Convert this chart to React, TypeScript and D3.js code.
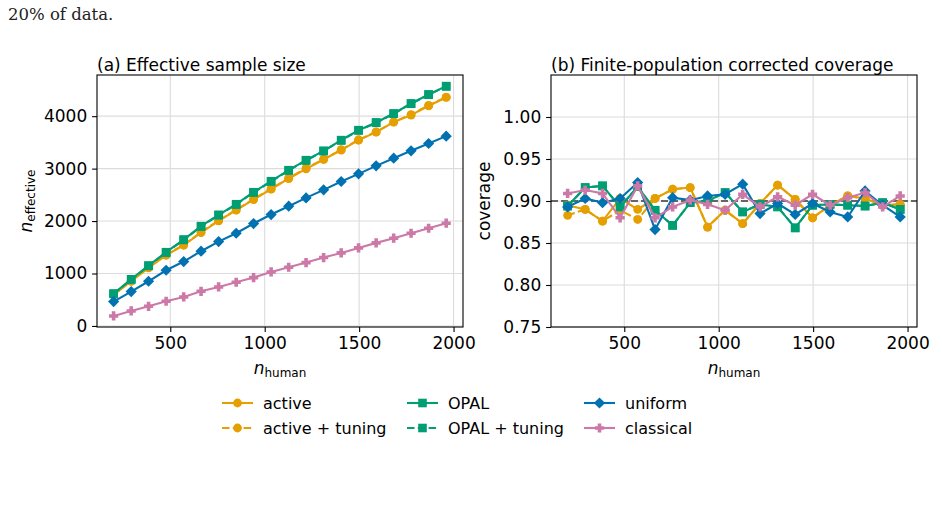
import React, { useEffect, useRef } from 'react';
import * as d3 from 'd3';

// n_human values (x axis, both panels)
const nHuman = [200, 293, 385, 478, 571, 663, 756, 849, 941, 1034, 1127, 1219, 1312, 1405, 1497, 1590, 1683, 1775, 1868, 1961];

// (a) effective sample size
const essActive = [590, 852, 1107, 1348, 1539, 1781, 2003, 2207, 2410, 2608, 2811, 2996, 3174, 3352, 3543, 3695, 3886, 4020, 4198, 4357];
const essActiveTuning = [600, 860, 1115, 1355, 1545, 1790, 2010, 2215, 2418, 2615, 2818, 3004, 3180, 3360, 3550, 3700, 3892, 4028, 4205, 4362];
const essOpal = [617, 890, 1151, 1406, 1647, 1902, 2118, 2321, 2550, 2760, 2970, 3161, 3339, 3543, 3733, 3880, 4051, 4242, 4414, 4573];
const essOpalTuning = [612, 885, 1146, 1400, 1640, 1896, 2112, 2316, 2544, 2754, 2964, 3155, 3334, 3537, 3728, 3874, 4046, 4236, 4408, 4568];
const essUniform = [464, 655, 852, 1062, 1228, 1425, 1609, 1768, 1953, 2124, 2283, 2442, 2595, 2754, 2900, 3053, 3199, 3339, 3479, 3619];
const essClassical = [191, 286, 375, 471, 553, 661, 744, 833, 922, 1030, 1119, 1208, 1304, 1393, 1488, 1584, 1673, 1768, 1863, 1959];

// (b) finite-population corrected coverage
const covActive = [0.895, 0.890, 0.876, 0.903, 0.890, 0.903, 0.914, 0.916, 0.869, 0.889, 0.873, 0.897, 0.919, 0.902, 0.880, 0.895, 0.906, 0.903, 0.895, 0.896];
const covActiveTuning = [0.883, 0.890, 0.876, 0.889, 0.878, 0.903, 0.914, 0.916, 0.869, 0.889, 0.873, 0.897, 0.919, 0.902, 0.880, 0.895, 0.906, 0.903, 0.895, 0.896];
const covOpal = [0.894, 0.916, 0.918, 0.893, 0.917, 0.889, 0.871, 0.898, 0.900, 0.910, 0.887, 0.896, 0.893, 0.868, 0.895, 0.896, 0.895, 0.894, 0.898, 0.890];
const covOpalTuning = [0.894, 0.916, 0.918, 0.893, 0.917, 0.889, 0.871, 0.898, 0.900, 0.910, 0.887, 0.896, 0.893, 0.868, 0.895, 0.896, 0.895, 0.894, 0.898, 0.890];
const covUniform = [0.893, 0.903, 0.898, 0.903, 0.922, 0.866, 0.904, 0.901, 0.906, 0.908, 0.920, 0.885, 0.897, 0.884, 0.897, 0.887, 0.881, 0.912, 0.895, 0.881];
const covClassical = [0.909, 0.913, 0.909, 0.880, 0.918, 0.880, 0.893, 0.901, 0.896, 0.889, 0.908, 0.893, 0.905, 0.895, 0.908, 0.895, 0.904, 0.910, 0.893, 0.906];

const nominal = 0.9;

const xTicks = [500, 1000, 1500, 2000];
const essTicks = [0, 1000, 2000, 3000, 4000];
const covTicks = [0.75, 0.8, 0.85, 0.9, 0.95, 1.0];

const seriesNames = ['active', 'active + tuning', 'OPAL', 'OPAL + tuning', 'uniform', 'classical'];
const colors = ['#E69F00', '#E69F00', '#009E73', '#009E73', '#0072B2', '#CC79A7'];
const markers = ['circle', 'circle', 'square', 'square', 'diamond', 'plus'];
const dashed = [false, true, false, true, false, false];

const FONT = 'DejaVu Sans, sans-serif';
const FS = 17;

function drawMarker(g: any, kind: string, x: number, y: number, color: string) {
    if (kind === 'circle') {
        g.append('circle').attr('cx', x).attr('cy', y).attr('r', 4.4).attr('fill', color);
    } else if (kind === 'square') {
        g.append('rect').attr('x', x - 4.3).attr('y', y - 4.3).attr('width', 8.6).attr('height', 8.6).attr('fill', color);
    } else if (kind === 'diamond') {
        g.append('path').attr('d', `M${x},${y - 5.6}L${x + 5.6},${y}L${x},${y + 5.6}L${x - 5.6},${y}Z`).attr('fill', color);
    } else {
        const a = 4.6, b = 1.8;
        g.append('path')
            .attr('d', `M${x - b},${y - a}H${x + b}V${y - b}H${x + a}V${y + b}H${x + b}V${y + a}H${x - b}V${y + b}H${x - a}V${y - b}H${x - b}Z`)
            .attr('fill', color);
    }
}

export default function App() {
    const svgRef = useRef<SVGSVGElement>(null);

    useEffect(() => {
        if (!svgRef.current) return;
        const svg = d3.select(svgRef.current);
        svg.selectAll('*').remove();

        svg.append('text').attr('x', 8).attr('y', 20)
            .attr('font-family', 'DejaVu Serif, serif').attr('font-size', 16.5).attr('fill', '#222')
            .text('20% of data.');

        const panels = [
            {
                left: 97, right: 463, title: '(a) Effective sample size', yDomain: [-20, 4785], ticks: essTicks,
                fmt: (d: number) => String(d), data: [essActive, essActiveTuning, essOpal, essOpalTuning, essUniform, essClassical],
            },
            {
                left: 551, right: 917, title: '(b) Finite-population corrected coverage', yDomain: [0.75, 1.05], ticks: covTicks,
                fmt: (d: number) => d.toFixed(2), data: [covActive, covActiveTuning, covOpal, covOpalTuning, covUniform, covClassical],
            },
        ];
        const top = 75, bottom = 327;

        panels.forEach((p, pi) => {
            const x = d3.scaleLinear().domain([112, 2050]).range([p.left, p.right]);
            const y = d3.scaleLinear().domain(p.yDomain).range([bottom, top]);
            const g = svg.append('g');

            // grid
            xTicks.forEach(t => {
                g.append('line').attr('x1', x(t)).attr('x2', x(t)).attr('y1', top).attr('y2', bottom)
                    .attr('stroke', '#dcdcdc').attr('stroke-width', 1.1);
            });
            p.ticks.forEach(t => {
                g.append('line').attr('x1', p.left).attr('x2', p.right).attr('y1', y(t)).attr('y2', y(t))
                    .attr('stroke', '#dcdcdc').attr('stroke-width', 1.1);
            });

            if (pi === 1) {
                g.append('line').attr('x1', p.left).attr('x2', p.right).attr('y1', y(nominal)).attr('y2', y(nominal))
                    .attr('stroke', '#666').attr('stroke-width', 2).attr('stroke-dasharray', '7,3');
            }

            // series
            p.data.forEach((vals, si) => {
                const line = d3.line<number>().x((d, i) => x(nHuman[i])).y(d => y(d));
                g.append('path').datum(vals).attr('fill', 'none').attr('stroke', colors[si])
                    .attr('stroke-width', 2.1).attr('stroke-dasharray', dashed[si] ? '7.5,3.3' : null)
                    .attr('d', line);
                vals.forEach((v, i) => drawMarker(g, markers[si], x(nHuman[i]), y(v), colors[si]));
            });

            // spines
            g.append('rect').attr('x', p.left).attr('y', top).attr('width', p.right - p.left).attr('height', bottom - top)
                .attr('fill', 'none').attr('stroke', '#000').attr('stroke-width', 1.1);

            // axes
            const xa = g.append('g').attr('transform', `translate(0,${bottom})`)
                .call(d3.axisBottom(x).tickValues(xTicks).tickSize(4.9).tickPadding(4.9).tickFormat(d3.format('d')));
            xa.select('.domain').remove();
            xa.selectAll('line').attr('stroke-width', 1.1);
            xa.selectAll('text').attr('font-family', FONT).attr('font-size', FS).attr('fill', '#000');

            const ya = g.append('g').attr('transform', `translate(${p.left},0)`)
                .call(d3.axisLeft(y).tickValues(p.ticks).tickSize(4.9).tickPadding(4.9).tickFormat((d: any) => p.fmt(d)));
            ya.select('.domain').remove();
            ya.selectAll('line').attr('stroke-width', 1.1);
            ya.selectAll('text').attr('font-family', FONT).attr('font-size', FS).attr('fill', '#000');

            // title
            g.append('text').attr('x', p.left).attr('y', 71).attr('font-family', FONT).attr('font-size', FS).attr('fill', '#000')
                .text(p.title);

            // x label
            const xl = g.append('text').attr('x', (p.left + p.right) / 2).attr('y', 374).attr('text-anchor', 'middle')
                .attr('font-family', FONT).attr('font-size', FS).attr('fill', '#000');
            xl.append('tspan').attr('font-style', 'italic').text('n');
            xl.append('tspan').attr('font-size', 12).attr('dy', 3).text('human');

            // y label
            const cy = (top + bottom) / 2;
            if (pi === 0) {
                const yl = g.append('text').attr('transform', `translate(31.5,${cy}) rotate(-90)`).attr('text-anchor', 'middle')
                    .attr('font-family', FONT).attr('font-size', FS).attr('fill', '#000');
                yl.append('tspan').attr('font-style', 'italic').text('n');
                yl.append('tspan').attr('font-size', 12).attr('dy', 3).text('effective');
            } else {
                g.append('text').attr('transform', `translate(490,${cy}) rotate(-90)`).attr('text-anchor', 'middle')
                    .attr('font-family', FONT).attr('font-size', FS).attr('fill', '#000').text('coverage');
            }
        });

        // legend: 3 columns, 2 rows, column-major
        const colX = [222, 407, 584];
        const rowY = [403, 428];
        seriesNames.forEach((name, si) => {
            const cx = colX[Math.floor(si / 2)];
            const ry = rowY[si % 2];
            const lg = svg.append('g');
            lg.append('line').attr('x1', cx).attr('x2', cx + 31).attr('y1', ry).attr('y2', ry)
                .attr('stroke', colors[si]).attr('stroke-width', 2.1).attr('stroke-dasharray', dashed[si] ? '7.5,3.3' : null);
            drawMarker(lg, markers[si], cx + 15.5, ry, colors[si]);
            lg.append('text').attr('x', cx + 41).attr('y', ry + 6).attr('font-family', FONT).attr('font-size', 16)
                .attr('fill', '#000').text(name);
        });
    }, []);

    return (
        <svg ref={svgRef} width={942} height={511} style={{ position: 'absolute', left: 0, top: 0, background: '#fff' }} />
    );
}
